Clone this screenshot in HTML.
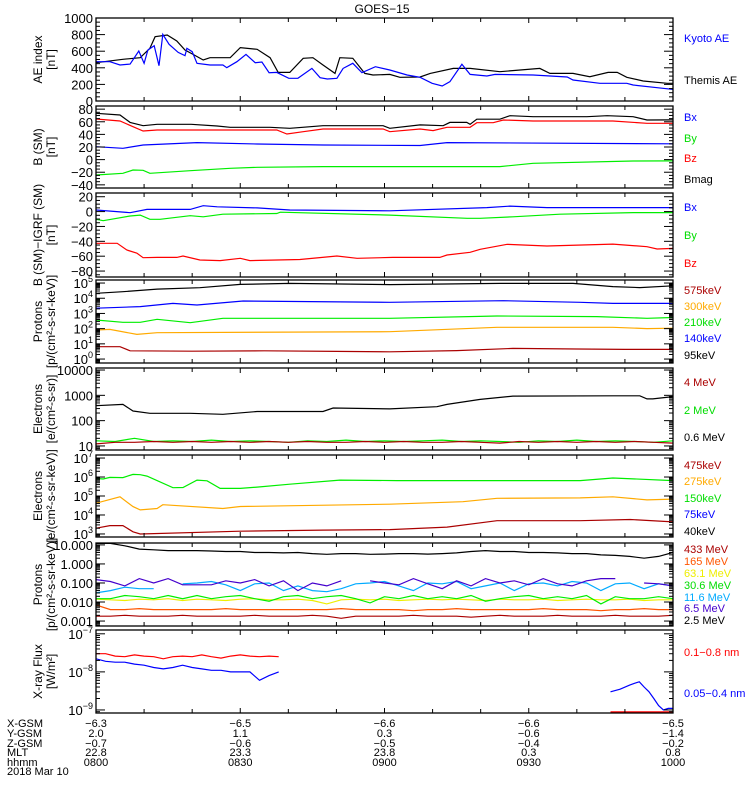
<!DOCTYPE html>
<html><head><meta charset="utf-8"><style>
html,body{margin:0;padding:0;background:#fff}
svg{display:block;font-family:"Liberation Sans",sans-serif}
</style></head><body>
<svg id="chart" width="750" height="800" viewBox="0 0 750 800" xmlns="http://www.w3.org/2000/svg">
<text x="382" y="13" font-size="12" text-anchor="middle">GOES−15</text>
</svg>
<script>
// ---- data (time in minutes after 08:00) ----
const tAE = [0,5.6,9.2,11.2,12.3,14.8,16.8,18.5,20.2,22.3,23.7,27.9,30,33.5,36.2,37.9,40.3,43.1,45.1,47.2,49.7,50.7,53.4,55.9,57.6,61.1,63.2,67.4,69.5,74.3,77.8,84,92.3,94.4,99.2,102.7,106.5,108.4,110.4,113.8,118.8,120];
const themisAE = [461,502,522,635,775,795,723,614,562,494,522,522,643,623,522,345,345,514,522,434,333,522,514,333,313,321,285,289,333,393,393,353,393,333,333,293,345,345,285,241,213,213];
const tKyoto = [0,2.9,5,7.1,8.9,10,10.8,12.1,13.1,13.9,15.2,17.1,18.5,18.9,20,21,23.7,26.4,27.2,29.3,31.2,33.1,34.5,36,37.6,40.1,42,44.9,46.6,48.1,50.1,51.4,53.4,55.3,58.1,61.1,64.7,67.4,69.9,72,73.6,76.1,77.8,81.3,83,90.9,98,99.2,104.8,110.4,111.7,117.9,120];
const kyotoAE = [474,474,434,445,602,454,614,666,425,803,683,586,546,635,594,454,434,434,401,474,562,461,470,341,345,273,273,393,281,265,273,393,454,341,413,373,313,285,213,181,233,442,321,301,321,313,289,253,213,213,193,153,140];
const tBmag = [0,5,7.1,9.8,12.7,19.8,25.2,27.9,36.2,40.3,47.2,59.7,61.1,67.4,72.2,73.6,77.1,77.8,79.2,84,86.1,90.9,102.1,106.3,111.7,114.6,120];
const bMag = [73.4,70.7,59,53.8,56,56,53.3,51.2,51.2,49.6,53.8,53.8,49.6,55,53.8,59,59,56,64,64,69.6,68,68,69.6,68,62.8,63];
const tBz = [0,5,7.7,9.8,12.7,27.9,37.6,39.7,43.1,47.2,59.7,61.1,67.4,70.1,73,77.8,79.2,82.6,84.7,90.9,107.5,114.6,120];
const bZ = [64.4,61.2,52.2,45.4,47,47,47,40.6,44.3,48.5,48.5,44.3,48.5,46,51.2,51.2,58.6,58.6,62.8,61.2,61.2,57.5,57.5];
const tBx = [0,5.6,9.8,21,33.5,47.2,67.4,73,120];
const bX = [20.5,18,23.2,26.9,24.8,23.2,22.4,26.9,25];
const tBy = [0,5.6,7.7,9.8,11.2,19.6,27.9,33.5,47.2,84,90.9,111.7,120];
const bY = [-24.4,-21.7,-16.5,-17,-21.7,-17.6,-13.8,-12.2,-11.1,-11.1,-5.9,-2.2,-2];
const tDx = [0,7.1,10.6,19.6,22.3,25.2,33.5,40.3,61.1,81.3,86.1,93.8,120];
const dBx = [2.1,-1.5,3,3,7.9,6.5,5,2.1,1.1,5.4,7.4,5.4,5.4];
const tDy = [0,1.5,7.1,9.2,11.2,13.3,19.6,22.3,26.4,37.6,38.3,61.1,77.2,79.9,86.7,96.5,111.7,120];
const dBy = [-10.4,-12.2,-6,-4.7,-10.4,-10.4,-5.6,-7,-3.5,-2.6,-0.8,-4.7,-9.1,-9.1,-7,-3.5,-1.3,-1.3];
const tDz = [0,4.4,6.4,8.5,9.8,12.7,16.8,18.1,21.6,25.8,30,32,42.4,50.1,54.3,61.7,71.5,73,77.8,79.9,85.5,93.8,107.5,114.6,116.7,120];
const dBz = [-42.7,-42.7,-51.7,-56,-62,-61.6,-61.6,-59.7,-65.1,-66,-62.9,-66,-64.4,-59.7,-62.9,-61.6,-61.6,-58.4,-54.8,-50.7,-44,-46.3,-43.8,-47.3,-50.3,-49.5];
const tP95 = [0,5.6,12.7,21.6,30,40.3,61.1,84,99.2,107.5,113.1,120];
const p95 = [2.1e4,2.7e4,4e4,4.9e4,8.1e4,9.5e4,7.9e4,9.5e4,9.5e4,5.8e4,5e4,6.6e4];
const tP140 = [0,9.2,16,21,30.6,61.1,84.7,100.7,107.5,120];
const p140 = [2.2e3,2.8e3,4.6e3,3.6e3,6.6e3,5.4e3,6.9e3,5.4e3,4.6e3,4.6e3];
const tP210 = [0,5.6,9.2,12.7,19.6,26.4,61.1,83.4,104.2,114.6,120];
const p210 = [370,260,260,410,245,480,480,680,620,480,540];
const tP300 = [0,2.9,8.5,12.7,61.1,83.4,107.5,114.6,120];
const p300 = [81,89,42,54,63,123,123,100,107];
const tP575 = [0,5,7.1,20,35,50,61.1,75,86.7,100,110,120];
const p575 = [6.5,6.5,3.5,3.3,3.5,3.2,3,3.6,5,4.6,4.3,4.3];
const tE = [0,4,8,12,16,20,24,28,32,36,40,44,48,52,56,60,64,68,72,76,80,84,88,92,96,100,104,108,112,116,120];
const tE06 = [0,5.6,7.7,11.2,19.6,26.4,33.5,47.2,49.3,61.1,70.9,73,79.9,86.7,107.5,113.1,114.6,115.8,120];
const e06 = [390,440,240,195,195,178,230,230,316,290,355,440,690,930,955,955,720,720,890];
const e2 = [16,15,20,15,16,15,17,15,16,15,14,16,15,17,15,16,15,16,17,15,16,15,14,16,15,17,15,16,15,14,16];
const e4 = [12,14,14,15,14,15,14,15,14,15,14,15,14,14,15,14,15,14,14,15,14,13,15,14,15,14,15,14,15,14,13];
const tE150 = [0,1.5,2.9,5.6,7.7,9.2,10.6,16,18.1,21,23.1,25.8,30,33.5,40.3,50.7,62.6,100.7,107.5,120];
const e150 = [8.5e5,7.9e5,9.5e5,9.3e5,1.38e6,1.32e6,1.12e6,2.75e5,2.8e5,6.9e5,6.3e5,2.5e5,2.5e5,2.95e5,4.2e5,6.9e5,6.5e5,6.5e5,8.9e5,6.5e5];
const tE275 = [0,5,7.7,9.2,12.7,13.9,26.4,30,61.1,76.3,83.4,100.7,107.5,114.6,120];
const e275 = [4.2e4,9.1e4,2.75e4,1.86e4,2.2e4,3.5e4,2.2e4,2.8e4,3.7e4,5e4,7.6e4,7.9e4,9.1e4,6.2e4,6.9e4];
const tE475 = [0,2.9,5.6,7.7,9.2,30,47.2,61.1,73,83.4,100.7,111.1,120];
const e475 = [2e3,2.75e3,2.75e3,1.3e3,1e3,1.4e3,1.6e3,1.7e3,2.3e3,5e3,5e3,5.8e3,4.3e3];
const tHP = [0,3,6,9,12,15,18,21,24,27,30,33,36,39,42,45,48,51,54,57,60,63,66,69,72,75,78,81,84,87,90,93,96,99,102,105,108,111,114,117,120];
const hp25 = [12,12,9,6,5.5,5,5,5,4.8,4.5,4.5,4,4,3.8,4,3.5,3.2,3.5,3.5,3.2,3.3,3.5,3.5,3.3,3.5,3.8,4.5,5,4.5,4.5,4,4,3.8,3.5,3.5,3,2.8,2.5,2,2.5,4];
const hp65 = [0.15,0.12,0.07,0.17,0.1,0.17,0.08,0.08,0.08,0.13,0.1,0.15,0.07,0.13,0.04,0.1,0.07,0.13,null,0.13,0.1,0.08,0.17,0.09,0.05,0.13,0.07,0.17,0.1,0.13,0.08,0.17,0.09,0.07,0.13,0.17,0.17,null,0.1,0.09,0.07];
const hp116 = [0.03,0.04,0.06,0.05,0.05,null,0.09,0.1,0.12,0.08,0.04,0.09,0.1,0.04,0.07,0.04,0.035,0.05,0.09,0.1,0.12,0.07,0.04,0.1,0.09,0.12,0.05,0.07,0.1,0.04,0.09,0.1,0.07,0.12,0.1,0.04,0.09,0.1,0.05,0.09,0.07];
const hp306 = [0.015,0.015,0.022,0.019,0.015,0.022,0.015,0.022,0.015,0.019,0.022,0.015,0.011,0.019,0.022,0.015,0.019,0.022,0.015,0.009,0.019,0.015,0.022,0.015,0.019,0.015,0.022,0.011,0.015,0.019,0.022,0.015,0.019,0.015,0.022,0.008,0.019,0.015,0.015,0.019,0.015];
const hp631 = [0.014,0.013,0.012,0.014,0.013,0.015,0.012,0.014,0.013,0.012,0.014,0.015,0.013,0.013,0.014,0.012,0.008,0.013,0.014,0.013,0.014,0.012,0.013,0.014,0.013,0.014,0.013,0.012,0.014,0.013,0.013,0.014,0.012,0.013,0.014,0.013,0.013,0.014,0.012,0.013,0.013];
const hp165 = [0.007,0.004,0.004,0.0045,0.004,0.004,0.004,0.004,0.004,0.0045,0.004,0.004,0.004,0.004,0.004,0.004,0.004,0.0045,0.004,0.004,0.004,0.004,0.0035,0.004,0.004,0.0045,0.004,0.004,0.004,0.004,0.004,0.0045,0.004,0.004,0.004,0.0035,0.004,0.004,0.0045,0.004,0.004];
const hp433 = [0.0018,0.0018,0.002,0.0018,0.0018,0.0018,0.002,0.0018,0.0018,0.0018,0.0018,0.002,0.0018,0.0018,0.0018,0.002,0.0018,0.0014,0.0018,0.0018,0.0018,0.0018,0.002,0.0018,0.0018,0.0018,0.0016,0.0018,0.002,0.0018,0.0018,0.0018,0.002,0.0018,0.0018,0.0018,0.002,0.0018,0.0018,0.0018,0.002];
const tX = [0,2,4,6,8,10,12,14,16,18,20,22,24,26,28,30,32,34,36,38];
const xLong = [3e-8,3e-8,2.6e-8,2.5e-8,2.8e-8,2.6e-8,2.5e-8,2.2e-8,2.5e-8,2.6e-8,2.5e-8,2.8e-8,2.5e-8,2.3e-8,2.6e-8,2.8e-8,2.6e-8,2.5e-8,2.6e-8,2.5e-8];
const xShort = [2.2e-8,1.9e-8,1.8e-8,1.8e-8,1.6e-8,1.5e-8,1.3e-8,1.2e-8,1.3e-8,1.5e-8,1.3e-8,1.2e-8,1.1e-8,1.1e-8,1.0e-8,1.0e-8,1.0e-8,6e-9,8e-9,1e-8];
const tX2 = [107,109,111,112,113,114,115,116,117,118,119,120];
const xShort2 = [3e-9,3.5e-9,4.5e-9,5e-9,5.5e-9,4e-9,3e-9,2e-9,1.3e-9,1e-9,1.1e-9,1.1e-9];
const xTickLabels = ['0800','0830','0900','0930','1000'];
const xGSM = ['−6.3','−6.5','−6.6','−6.6','−6.5'];
const yGSM = ['2.0','1.1','0.3','−0.6','−1.4'];
const zGSM = ['−0.7','−0.6','−0.5','−0.4','−0.2'];
const mlt = ['22.8','23.3','23.8','0.3','0.8'];

// ---- layout ----
const X0=96, X1=673, T0=0, T1=120;
const svg=document.getElementById('chart');
const NS='http://www.w3.org/2000/svg';
function xs(t){return X0+(t-T0)/(T1-T0)*(X1-X0);}
function mk(tag,attrs,parent){const e=document.createElementNS(NS,tag);for(const k in attrs)e.setAttribute(k,attrs[k]);(parent||svg).appendChild(e);return e;}

const panels=[
 {name:'ae',top:18,bot:101,log:false,min:0,max:1000,major:200,minor:50,title:['AE index','[nT]'],
  series:[[tAE,themisAE,'#000'],[tKyoto,kyotoAE,'#0000ff']],
  legend:[['Kyoto AE','#0000ff',38],['Themis AE','#000',80]]},
 {name:'b-sm',top:106,bot:188,log:false,min:-45,max:85,major:20,minor:5,title:['B (SM)','[nT]'],
  series:[[tBmag,bMag,'#000'],[tBz,bZ,'#ff0000'],[tBx,bX,'#0000ff'],[tBy,bY,'#00ee00']],
  legend:[['Bx','#0000ff',117],['By','#00dd00',138],['Bz','#ff0000',158],['Bmag','#000',179]]},
 {name:'b-igrf',top:193,bot:277,log:false,min:-88,max:25,major:20,minor:5,title:['B (SM)−IGRF (SM)','[nT]'],
  series:[[tDx,dBx,'#0000ff'],[tDy,dBy,'#00ee00'],[tDz,dBz,'#ff0000']],
  legend:[['Bx','#0000ff',207],['By','#00dd00',235],['Bz','#ff0000',263]]},
 {name:'protons-low',top:280,bot:363,log:true,min:-0.26,max:5.2,fmt:'pow',title:['Protons','[p/(cm²-s-sr-keV)]'],
  series:[[tP95,p95,'#000'],[tP140,p140,'#0000ff'],[tP210,p210,'#00ee00'],[tP300,p300,'#ffaa00'],[tP575,p575,'#aa0000']],
  legend:[['575keV','#aa0000',290],['300keV','#ffaa00',306],['210keV','#00dd00',322],['140keV','#0000ff',338],['95keV','#000',355]]},
 {name:'electrons-mev',top:368,bot:450,log:true,min:0.84,max:4.08,fmt:'int',title:['Electrons','[e/(cm²-s-sr)]'],
  series:[[tE06,e06,'#000'],[tE,e2,'#00ee00'],[tE,e4,'#aa0000']],
  legend:[['4 MeV','#aa0000',382],['2 MeV','#00dd00',410],['0.6 MeV','#000',437]]},
 {name:'electrons-kev',top:455,bot:537,log:true,min:2.84,max:7.16,fmt:'pow',title:['Electrons','[e/(cm²-s-sr-keV)]'],
  series:[[tE150,e150,'#00ee00'],[tE275,e275,'#ffaa00'],[tE475,e475,'#aa0000']],
  legend:[['475keV','#aa0000',465],['275keV','#ffaa00',481],['150keV','#00dd00',498],['75keV','#0000ff',514],['40keV','#000',531]]},
 {name:'protons-high',top:543,bot:626,log:true,min:-3.26,max:1.1,fmt:'dec',title:['Protons','[p/(cm²-s-sr-keV)]'],
  series:[[tHP,hp25,'#000'],[tHP,hp433,'#aa0000'],[tHP,hp165,'#ff5500'],[tHP,hp631,'#eeee00'],[tHP,hp306,'#00ee00'],[tHP,hp116,'#00aaff'],[tHP,hp65,'#4400cc']],
  legend:[['433 MeV','#aa0000',549],['165 MeV','#ff5500',561],['63.1 MeV','#eeee00',573],['30.6 MeV','#00dd00',585],['11.6 MeV','#00aaff',597],['6.5 MeV','#4400cc',608],['2.5 MeV','#000',620]]},
 {name:'xray',top:630,bot:713,log:true,min:-9.08,max:-6.9,fmt:'pow',title:['X-ray Flux','[W/m²]'],
  series:[[tX,xLong,'#ff0000'],[tX,xShort,'#0000ff'],[tX2,xShort2,'#0000ff']],
  legend:[['0.1−0.8 nm','#ff0000',652],['0.05−0.4 nm','#0000ff',693]]}
];

panels.forEach((p,pi)=>{
  const g=mk('g',{});
  
  
  const ys=v=>{const lv=p.log?Math.log10(v):v;return p.bot-(lv-p.min)/(p.max-p.min)*(p.bot-p.top);};
  const cid='clip'+pi;
  const cp=mk('clipPath',{id:cid},g);mk('rect',{x:X0,y:p.top,width:X1-X0,height:p.bot-p.top},cp);
  p.series.forEach(s=>{
    const [ts,vs,col]=s;let segs=[],cur=[];
    for(let i=0;i<ts.length;i++){if(vs[i]==null){if(cur.length)segs.push(cur);cur=[];continue;}cur.push(xs(ts[i]).toFixed(1)+','+ys(vs[i]).toFixed(1));}
    if(cur.length)segs.push(cur);
    segs.forEach(sg=>{const pl=mk('polyline',{points:sg.join(' '),fill:'none',stroke:col,'stroke-width':1.2,'clip-path':'url(#'+cid+')'},g);
      
      });
  });
  if(p.name==='xray'){const l=mk('line',{x1:xs(107),x2:X1,y1:p.bot-1,y2:p.bot-1,stroke:'#ff0000','stroke-width':1.5},g);
    
    }
  const fr=mk('rect',{x:X0,y:p.top,width:X1-X0,height:p.bot-p.top,fill:'none',stroke:'#000','stroke-width':1.3},g);
  
  
  for(let k=1;k<12;k++){const x=xs(k*10);const L=(k%3===0)?5:4;mk('line',{x1:x,x2:x,y1:p.bot,y2:p.bot-L,stroke:'#000'},g);mk('line',{x1:x,x2:x,y1:p.top,y2:p.top+L,stroke:'#000'},g);}
  const tick=(v,len,label)=>{const y=ys(v);if(y<p.top-0.5||y>p.bot+0.5)return;
    mk('line',{x1:X0,x2:X0+len,y1:y,y2:y,stroke:'#000'},g);mk('line',{x1:X1,x2:X1-len,y1:y,y2:y,stroke:'#000'},g);
    if(label!=null){const t=mk('text',{x:X0-3,y:y+5,'font-size':13,'text-anchor':'end'},g);
      
      
      if(Array.isArray(label)){t.textContent=label[0];const s=mk('tspan',{dy:-6,'font-size':9},t);s.textContent=label[1];}else t.textContent=label;}};
  if(!p.log){
    const start=Math.ceil(p.min/p.minor)*p.minor;
    for(let v=start;v<=p.max;v+=p.minor){const maj=Math.abs(v%p.major)<1e-6;tick(v,maj?9:4,maj?(v<0?'−'+(-v):String(v)):null);}
  }else{
    for(let d=Math.floor(p.min);d<=Math.ceil(p.max);d++){
      let lab;if(p.fmt==='pow')lab=['10',d<0?'−'+(-d):String(d)];else if(p.fmt==='int')lab=String(Math.round(Math.pow(10,d)));else lab=Math.pow(10,d).toFixed(3);
      tick(Math.pow(10,d),9,lab);
      for(let m=2;m<10;m++)tick(m*Math.pow(10,d),4,null);
    }
  }
  const cy=(p.top+p.bot)/2;
  p.title.forEach((ln,li)=>{const x=42+li*13;const t=mk('text',{x:x,y:cy,'font-size':12,'text-anchor':'middle',transform:'rotate(-90 '+x+' '+cy+')'},g);
    
    
    t.textContent=ln;});
  p.legend.forEach(l=>{const t=mk('text',{x:684,y:l[2]+4,'font-size':11,fill:l[1]},g);
    
    
    t.textContent=l[0];});
});

const rows=[['X-GSM',xGSM,727],['Y-GSM',yGSM,737],['Z-GSM',zGSM,747],['MLT',mlt,756],['hhmm',xTickLabels,766]];
rows.forEach(r=>{
  const h=mk('text',{x:7,y:r[2],'font-size':11});
  
  
  h.textContent=r[0];
  r[1].forEach((v,i)=>{const t=mk('text',{x:xs(i*30),y:r[2],'font-size':11,'text-anchor':'middle'});
    
    
    t.textContent=v;});
});
const dt=mk('text',{x:7,y:775,'font-size':11});


dt.textContent='2018 Mar 10';
</script>
</body></html>
